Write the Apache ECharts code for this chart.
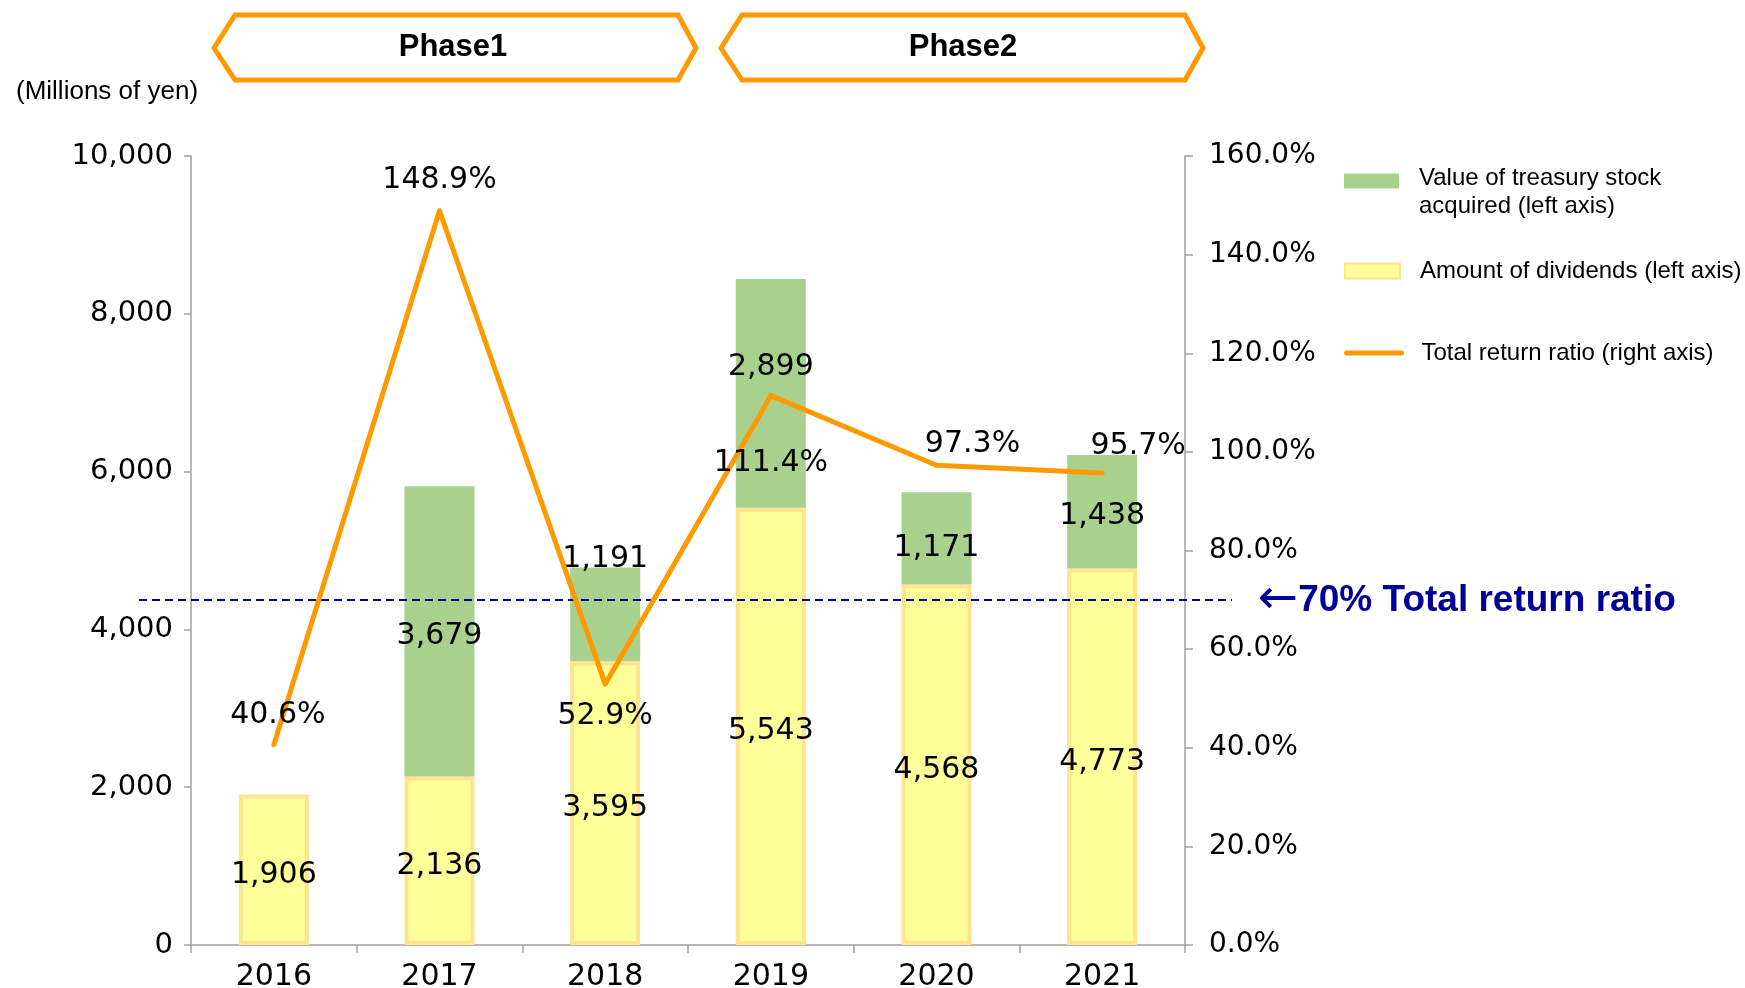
<!DOCTYPE html>
<html>
<head>
<meta charset="utf-8">
<script src="https://cdn.jsdelivr.net/npm/echarts@6/dist/echarts.min.js"></script>
<style>
  html, body { margin: 0; padding: 0; background: #fff; }
  #main { width: 1745px; height: 988px; }
</style>
</head>
<body>
<div id="main"></div>
<script>
const years = ["2016", "2017", "2018", "2019", "2020", "2021"];
const dividends = [1906, 2136, 3595, 5543, 4568, 4773];
const treasury = [0, 3679, 1191, 2899, 1171, 1438];
const returnRatio = [40.6, 148.9, 52.9, 111.4, 97.3, 95.7];
const targetRatio = 70;
const phases = ["Phase1", "Phase2"];

const numFont = "DejaVu Sans";
const textFont = "Liberation Sans";

// label nudges so the numbers sit where the original puts them
const treasuryLabelOffset = [[0, 0], [0, 5], [0, -55], [0, -26], [0, 10], [0, 5]];
const ratioLabel = [
    { position: "top", distance: 14, offset: [4, 0] },
    { position: "top", distance: 15, offset: [0, 0] },
    { position: "bottom", distance: 17, offset: [0, 0] },
    { position: "bottom", distance: 52, offset: [0, 0] },
    { position: "top", distance: 5, offset: [36, 0] },
    { position: "top", distance: 11, offset: [36, 0] },
];

const fmt = (v) => v.toLocaleString("en-US");

const chart = echarts.init(document.getElementById("main"));

const phaseBox = (x0, x1) => [
    [x0, 48], [x0 + 21, 15], [x1 - 18, 15], [x1, 48], [x1 - 18, 80], [x0 + 21, 80],
];

const legendText = { fontSize: 24, color: "#000", lineHeight: 28, fontFamily: textFont };

const option = {
    animation: false,
    backgroundColor: "#ffffff",
    textStyle: { fontFamily: textFont },
    grid: { left: 191, right: 560, top: 156, bottom: 43, containLabel: false, outerBoundsMode: "none" },
    legend: [
        {
            data: ["Value of treasury stock\nacquired (left axis)"],
            left: 1339, top: 137, orient: "vertical",
            icon: "rect", itemWidth: 55, itemHeight: 15, selectedMode: false,
            formatter: () => "{s| }\n{t|Value of treasury stock}\n{t|acquired (left axis)}",
            textStyle: {
                ...legendText,
                padding: [0, 0, 0, 15],
                rich: {
                    s: { fontSize: 10, lineHeight: 22, height: 22 },
                    t: { fontSize: 24, lineHeight: 28, color: "#000", fontFamily: textFont },
                },
            },
        },
        {
            data: ["Amount of dividends (left axis)"],
            left: 1339, top: 252, orient: "vertical",
            icon: "rect", itemWidth: 55, itemHeight: 15, selectedMode: false,
            textStyle: { ...legendText, padding: [0, 0, 0, 15] },
        },
        {
            data: ["Total return ratio (right axis)"],
            left: 1339, top: 334, orient: "vertical",
            itemWidth: 55, itemHeight: 15, selectedMode: false,
            lineStyle: { width: 5, cap: "round" },
            textStyle: { ...legendText, padding: [0, 0, 0, 15] },
        },
    ],
    title: [
        {
            text: "(Millions of yen)",
            left: 11, top: 74,
            textStyle: { fontSize: 26, fontWeight: "normal", color: "#000", fontFamily: textFont },
        },
    ],
    graphic: [
        {
            type: "polygon", shape: { points: phaseBox(214, 696) },
            style: { fill: "#fff", stroke: "#FF9900", lineWidth: 5 },
        },
        {
            type: "polygon", shape: { points: phaseBox(721, 1203) },
            style: { fill: "#fff", stroke: "#FF9900", lineWidth: 5 },
        },
        {
            type: "text", x: 453, y: 47,
            style: { text: phases[0], fill: "#000", font: "bold 31px " + textFont, align: "center", verticalAlign: "middle" },
        },
        {
            type: "text", x: 963, y: 47,
            style: { text: phases[1], fill: "#000", font: "bold 31px " + textFont, align: "center", verticalAlign: "middle" },
        },
        {
            type: "text", x: 1258, y: 601,
            style: {
                text: "{a|\u2190}{b|70% Total return ratio}",
                verticalAlign: "middle",
                rich: {
                    a: { fontFamily: numFont, fontSize: 48, fill: "#000099", lineHeight: 44 },
                    b: { fontFamily: textFont, fontSize: 37, fontWeight: "bold", fill: "#000099", lineHeight: 44 },
                },
            },
        },
    ],
    xAxis: {
        type: "category",
        data: years,
        axisLine: { lineStyle: { color: "#A0A0A0", width: 1.5 } },
        axisTick: { show: true, length: 8, lineStyle: { color: "#A0A0A0", width: 1.5 } },
        axisLabel: { color: "#000", fontSize: 30, fontFamily: numFont, margin: 17 },
    },
    yAxis: [
        {
            type: "value", min: 0, max: 10000, interval: 2000,
            splitLine: { show: false },
            axisLine: { show: true, lineStyle: { color: "#A0A0A0", width: 1.5 } },
            axisTick: { show: true, length: 7, lineStyle: { color: "#A0A0A0", width: 1.5 } },
            axisLabel: { color: "#000", fontSize: 29, fontFamily: numFont, margin: 18, padding: [8, 0, 0, 0], formatter: fmt },
        },
        {
            type: "value", min: 0, max: 160, interval: 20,
            splitLine: { show: false },
            axisLine: { show: true, lineStyle: { color: "#A0A0A0", width: 1.5 } },
            axisTick: { show: true, length: 8, lineStyle: { color: "#A0A0A0", width: 1.5 } },
            axisLabel: { color: "#000", fontSize: 28, fontFamily: numFont, margin: 24, padding: [8, 0, 0, 0], formatter: (v) => v.toFixed(1) + "%" },
        },
    ],
    series: [
        {
            name: "Amount of dividends (left axis)",
            type: "bar",
            stack: "total",
            barWidth: 70,
            data: dividends,
            itemStyle: { color: "#FFFF99", borderColor: "#FFE38F", borderWidth: 4 },
            label: {
                show: true, position: "inside", color: "#000", offset: [0, 5],
                fontSize: 30, fontFamily: numFont,
                formatter: (p) => fmt(p.value),
            },
        },
        {
            name: "Value of treasury stock\nacquired (left axis)",
            type: "bar",
            stack: "total",
            barWidth: 70,
            data: treasury.map((v, i) => ({ value: v, label: { offset: treasuryLabelOffset[i] } })),
            itemStyle: { color: "#A9D18E" },
            label: {
                show: true, position: "inside", color: "#000",
                fontSize: 30, fontFamily: numFont,
                formatter: (p) => (p.value ? fmt(p.value) : ""),
            },
        },
        {
            name: "Total return ratio (right axis)",
            type: "line",
            yAxisIndex: 1,
            z: 5,
            symbol: "circle",
            symbolSize: 1,
            showSymbol: true,
            data: returnRatio.map((v, i) => ({ value: v, label: ratioLabel[i] })),
            lineStyle: { color: "#FF9900", width: 5, cap: "round", join: "round" },
            itemStyle: { color: "rgba(255,153,0,0)" },
            label: {
                show: true, color: "#000", fontSize: 30, fontFamily: numFont,
                formatter: (p) => p.value.toFixed(1) + "%",
            },
            markLine: {
                silent: true,
                symbol: "none",
                label: { show: false },
                lineStyle: { color: "#000099", type: [8, 5], width: 2 },
                data: [[{ x: 139, yAxis: targetRatio }, { x: 1232, yAxis: targetRatio }]],
            },
        },
    ],
};

chart.setOption(option);
window.addEventListener("resize", () => chart.resize());
</script>
</body>
</html>
